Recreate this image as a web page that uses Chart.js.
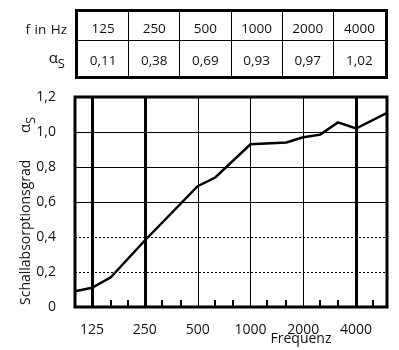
<!DOCTYPE html>
<html>
<head>
<meta charset="utf-8">
<script src="https://cdn.jsdelivr.net/npm/chart.js@4.4.1/dist/chart.umd.min.js"></script>
<style>
  body { margin: 0; background: #fff; }
  #wrap { position: relative; width: 399px; height: 350px; font-family: "Open Sans", sans-serif; color: #111; }
  #chart { position: absolute; left: 0; top: 0; }
  #bands { position: absolute; left: 75px; top: 9px; width: 313px; box-sizing: border-box;
           border: 3px solid #000; display: grid; grid-template-columns: repeat(6, 1fr);
           grid-template-rows: 29px 35px; }
  #bands div { display: flex; align-items: center; justify-content: center; font-size: 13.5px;
               border-right: 1px solid #000; padding-top: 3px; box-sizing: border-box; }
  #bands div:nth-child(6n) { border-right: none; }
  #bands div.top { border-bottom: 1px solid #000; }
  .rowhead { position: absolute; font-size: 13.5px; text-align: right; }
</style>
</head>
<body>
<div id="wrap">
  <canvas id="chart" width="399" height="350"></canvas>
  <div class="rowhead" style="right: 332px; top: 20px; word-spacing: 1px;">f in Hz</div>
  <div class="rowhead" style="right: 334px; top: 47px; font-size: 15px;">&alpha;<span style="font-size: 13px; position: relative; top: 5px;">S</span></div>
  <div id="bands"></div>
</div>
<script>
// octave band table values
const octaveBands = [125, 250, 500, 1000, 2000, 4000];
const octaveAlpha = [0.11, 0.38, 0.69, 0.93, 0.97, 1.02];

// measured absorption curve
const curveFreq = [100, 125, 160, 250, 500, 630, 1000, 1600, 2000, 2500, 3150, 4000, 6000];
const curveAlpha = [0.09, 0.11, 0.17, 0.38, 0.69, 0.74, 0.93, 0.94, 0.97, 0.985, 1.055, 1.02, 1.11];

// axis settings
const alphaTicks = [0, 0.2, 0.4, 0.6, 0.8, 1.0, 1.2];
const thirdOctaveMarks = [160, 200, 315, 400, 630, 800, 1250, 1600, 2500, 3150, 5000];
const thickLines = [125, 250, 4000];
const dottedLevels = [0.2, 0.4];

function comma(v, digits) {
    return v === 0 ? '0' : v.toFixed(digits).replace('.', ',');
}

// fill the table
var bands = document.getElementById('bands');
octaveBands.forEach(function(f) {
    var cell = document.createElement('div');
    cell.className = 'top';
    cell.textContent = f;
    bands.appendChild(cell);
});
octaveAlpha.forEach(function(a) {
    var cell = document.createElement('div');
    cell.textContent = comma(a, 2);
    bands.appendChild(cell);
});

const font = '14px "Open Sans", sans-serif';

// grid, frame, small third-octave ticks and axis titles, all drawn last
const decorations = {
    id: 'decorations',
    afterDraw(chart) {
        const ctx = chart.ctx;
        const area = chart.chartArea;
        const x = chart.scales.x;
        const y = chart.scales.y;
        ctx.save();
        ctx.strokeStyle = '#000';

        // horizontal levels, dotted at 0,2 and 0,4
        ctx.lineWidth = 1;
        alphaTicks.forEach(function(v) {
            if (v === 0 || v === 1.2) return;
            const py = Math.round(y.getPixelForValue(v)) + 0.5;
            ctx.setLineDash(dottedLevels.includes(v) ? [2, 2] : []);
            ctx.beginPath();
            ctx.moveTo(area.left, py);
            ctx.lineTo(area.right, py);
            ctx.stroke();
        });
        ctx.setLineDash([]);

        // octave verticals, heavy at 125/250/4000
        octaveBands.forEach(function(f) {
            const thick = thickLines.includes(f);
            const px = Math.round(x.getPixelForValue(f)) + 0.5;
            ctx.lineWidth = thick ? 3 : 1;
            ctx.beginPath();
            ctx.moveTo(px, area.top);
            ctx.lineTo(px, area.bottom);
            ctx.stroke();
        });

        ctx.lineWidth = 2;
        thirdOctaveMarks.forEach(function(f) {
            const px = Math.round(x.getPixelForValue(f));
            ctx.beginPath();
            ctx.moveTo(px, area.bottom);
            ctx.lineTo(px, area.bottom - 7);
            ctx.stroke();
        });

        ctx.lineWidth = 3;
        ctx.strokeRect(area.left, area.top, area.right - area.left, area.bottom - area.top);

        ctx.fillStyle = '#111';
        ctx.font = font;
        ctx.textAlign = 'center';
        ctx.textBaseline = 'middle';
        ctx.fillText('Frequenz', 301, 339);

        ctx.translate(26, 0);
        ctx.rotate(-Math.PI / 2);
        ctx.textAlign = 'left';
        ctx.fillText('Schallabsorptionsgrad', -305, 0);
        ctx.font = '15px "Open Sans", sans-serif';
        ctx.fillText('\u03b1', -133, 0);
        ctx.font = '13px "Open Sans", sans-serif';
        ctx.fillText('S', -124, 5);
        ctx.restore();
    }
};

var chartCtx = document.getElementById('chart').getContext('2d');
var myChart = new Chart(chartCtx, {
    type: 'line',
    data: {
        datasets: [{
            data: curveFreq.map((f, i) => ({ x: f, y: curveAlpha[i] })),
            borderColor: '#000',
            borderWidth: 2.5,
            pointRadius: 0,
            tension: 0,
            fill: false
        }]
    },
    options: {
        responsive: false,
        animation: false,
        layout: { padding: { top: 97, right: 12, left: 0, bottom: 0 } },
        plugins: {
            legend: { display: false },
            tooltip: { enabled: false }
        },
        scales: {
            x: {
                type: 'logarithmic',
                min: 100,
                max: 6000,
                afterBuildTicks: s => { s.ticks = octaveBands.map(v => ({ value: v })); },
                afterFit: s => { s.height = 43; },
                ticks: {
                    autoSkip: false,
                    maxRotation: 0,
                    padding: 7,
                    color: '#111',
                    font: { family: 'Open Sans', size: 14 },
                    callback: v => String(v)
                },
                grid: { display: false },
                border: { display: false }
            },
            y: {
                min: 0,
                max: 1.2,
                afterBuildTicks: s => { s.ticks = alphaTicks.map(v => ({ value: v })); },
                afterFit: s => { s.width = 75; },
                ticks: {
                    padding: 11,
                    color: '#111',
                    font: { family: 'Open Sans', size: 14 },
                    callback: v => comma(v, 1)
                },
                grid: { display: false },
                border: { display: false }
            }
        }
    },
    plugins: [decorations]
});
</script>
</body>
</html>
